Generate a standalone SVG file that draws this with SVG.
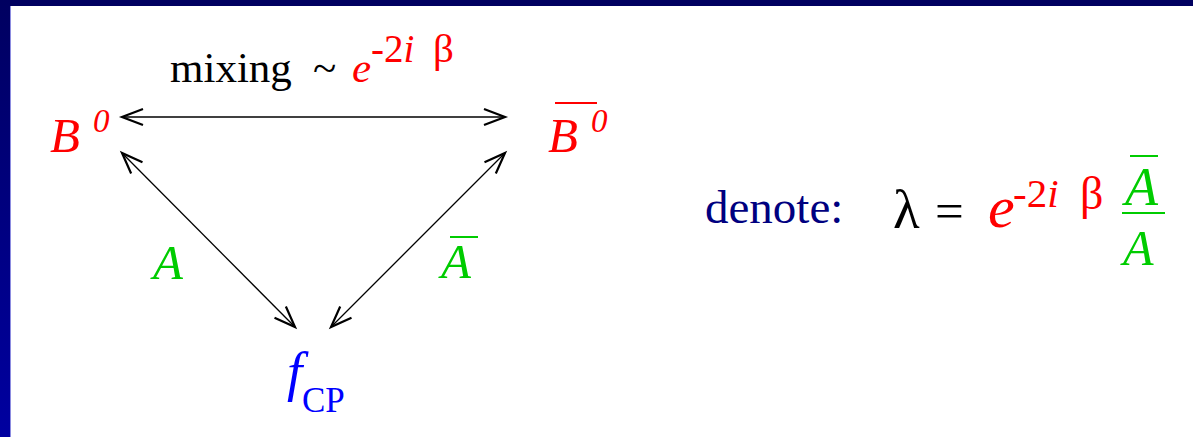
<svg xmlns="http://www.w3.org/2000/svg" width="1193" height="437" viewBox="0 0 1193 437">
<defs>
<linearGradient id="side" x1="0" y1="0" x2="0" y2="1">
<stop offset="0" stop-color="#000060"/>
<stop offset="1" stop-color="#0000a0"/>
</linearGradient>
<marker id="head" markerUnits="userSpaceOnUse" viewBox="-24 -10 26 20" refX="0" refY="0" markerWidth="26" markerHeight="20" orient="auto-start-reverse" overflow="visible">
<path d="M-21,-8 L0,0 L-21,8" fill="none" stroke="#000" stroke-width="2.2"/>
</marker>
<style>
text{font-family:"Liberation Serif","Times New Roman","DejaVu Serif",serif}
.it{font-style:italic}
.red{fill:#ff0000}
.green{fill:#00cc00}
.blue{fill:#0000ff}
.navy{fill:#000080}
.conn{stroke:#000;stroke-width:1.3;fill:none;marker-start:url(#head);marker-end:url(#head)}
.bar{stroke-width:2}
</style>
</defs>
<rect x="0" y="0" width="1193" height="437" fill="#ffffff"/>
<rect x="0" y="0" width="1193" height="6" fill="#000060"/>
<rect x="0" y="0" width="10" height="437" fill="url(#side)"/>
<line x1="10.5" y1="6" x2="10.5" y2="437" stroke="#8c8ce0" stroke-width="1"/>

<g id="connectors">
<path class="conn" d="M122,117 L505,117"/>
<path class="conn" d="M122,153 L295,327"/>
<path class="conn" d="M505,153 L331,327"/>
</g>

<g id="mixing-label">
<text x="170" y="82" font-size="43">mixing</text>
<text x="313" y="82" font-size="43">~</text>
<text x="352" y="82" font-size="43" class="it red">e</text>
<text x="371" y="62" font-size="39" class="red">-2<tspan class="it">i</tspan></text>
<text x="433" y="62" font-size="41" class="red">β</text>
</g>

<g id="node-B0">
<text x="50" y="152" font-size="49" class="it red">B</text>
<text x="93" y="132" font-size="33" class="it red">0</text>
</g>

<g id="node-B0bar">
<text x="548" y="152" font-size="49" class="it red">B</text>
<text x="591" y="132" font-size="33" class="it red">0</text>
<line x1="555" y1="103" x2="597" y2="103" stroke="#ff0000" class="bar"/>
</g>

<g id="node-fCP">
<text x="287" y="390" font-size="55" class="it blue">f</text>
<text x="302" y="412" font-size="35" class="blue">CP</text>
</g>

<g id="label-A">
<text x="153" y="279" font-size="49" class="it green">A</text>
</g>

<g id="label-Abar">
<text x="441" y="278" font-size="49" class="it green">A</text>
<line x1="450" y1="237" x2="478" y2="237" stroke="#00cc00" class="bar"/>
</g>

<g id="formula">
<text x="705" y="223" font-size="47" class="navy">denote:</text>
<text x="893" y="228" font-size="55">λ</text>
<text x="935" y="228" font-size="51">=</text>
<text x="988" y="227" font-size="60" class="it red">e</text>
<text x="1013" y="207" font-size="41" class="red">-2<tspan class="it">i</tspan></text>
<text x="1080" y="209" font-size="46" class="red">β</text>
<line x1="1130" y1="156" x2="1158" y2="156" stroke="#00cc00" class="bar"/>
<text x="1125" y="205" font-size="54" class="it green">A</text>
<line x1="1122" y1="213" x2="1165" y2="213" stroke="#00cc00" class="bar"/>
<text x="1123" y="265" font-size="50" class="it green">A</text>
</g>
</svg>
